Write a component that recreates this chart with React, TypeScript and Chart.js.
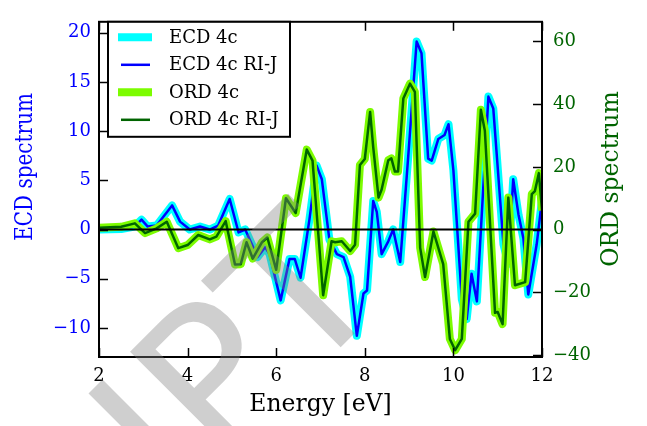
import React, { useEffect, useRef } from 'react';
import { Chart, registerables } from 'chart.js';

Chart.register(...registerables);

// ---- data ----
const ecdEnergy = [2.0, 2.5, 2.8, 2.96, 3.1, 3.3, 3.65, 3.83, 4.05, 4.28, 4.5, 4.69, 4.95, 5.15, 5.3, 5.58, 5.75, 5.85, 6.1, 6.3, 6.42, 6.55, 6.75, 6.91, 7.03, 7.2, 7.37, 7.52, 7.67, 7.82, 7.97, 8.05, 8.19, 8.27, 8.38, 8.53, 8.64, 8.8, 8.98, 9.17, 9.28, 9.43, 9.51, 9.66, 9.8, 9.89, 10.0, 10.19, 10.3, 10.41, 10.53, 10.79, 10.9, 11.13, 11.24, 11.35, 11.47, 11.58, 11.69, 11.88, 12.0];
const ecdValues = [0.0, 0.05, 0.3, 1.0, 0.3, 0.4, 2.45, 0.8, 0.0, 0.3, 0.0, 0.4, 3.1, -0.3, 0.0, -2.8, -1.8, -2.5, -7.2, -3.0, -3.0, -4.9, 1.0, 6.5, 5.1, -1.0, -2.5, -2.8, -4.8, -10.8, -6.5, -6.2, 2.9, 1.8, -2.5, -1.2, 0.0, -3.3, 7.4, 19.1, 17.9, 7.2, 7.0, 9.2, 9.6, 10.7, 6.0, -7.1, -9.1, -4.5, -7.3, 13.5, 12.3, -1.5, -3.5, 5.1, 1.5, -0.9, -6.6, -1.5, 3.0];

const ordEnergy = [2.0, 2.5, 2.81, 3.04, 3.3, 3.53, 3.79, 4.0, 4.24, 4.5, 4.65, 4.86, 5.07, 5.2, 5.33, 5.47, 5.68, 5.8, 6.0, 6.22, 6.44, 6.69, 6.82, 7.06, 7.25, 7.33, 7.48, 7.67, 7.78, 7.89, 8.0, 8.12, 8.19, 8.31, 8.38, 8.53, 8.6, 8.68, 8.75, 8.87, 9.02, 9.13, 9.25, 9.36, 9.55, 9.77, 9.92, 10.04, 10.19, 10.34, 10.49, 10.62, 10.71, 10.94, 11.0, 11.11, 11.24, 11.39, 11.62, 11.77, 11.84, 11.93, 12.0];
const ordValues = [0.6, 0.9, 2.0, -1.1, 0.4, 2.5, -5.9, -4.9, -1.7, -3.1, -2.2, 2.7, -11.1, -11.0, -4.0, -9.2, -4.0, -2.5, -12.8, 10.0, 5.3, 25.5, 22.0, -20.9, -3.7, -4.0, -3.7, -6.8, -4.8, 20.6, 22.5, 37.5, 26.3, 10.2, 12.8, 22.1, 22.7, 18.5, 18.5, 41.8, 46.5, 43.9, -5.8, -15.1, -0.6, -11.0, -34.8, -38.4, -34.8, 2.5, 5.1, 38.2, 31.5, -26.5, -26.2, -30.1, 10.2, -17.7, -16.7, 11.3, 12.3, 18.0, 6.1];

const energyTicks = [2, 4, 6, 8, 10, 12];
const ecdTicks = [-10, -5, 0, 5, 10, 15, 20];
const ordTicks = [-40, -20, 0, 20, 40, 60];
const seriesLabels = ['ECD 4c', 'ECD 4c RI-J', 'ORD 4c', 'ORD 4c RI-J'];
const xTitle = 'Energy [eV]';
const ecdTitle = 'ECD spectrum';
const ordTitle = 'ORD spectrum';
const watermark = 'ACCEPTED MANUSCRIPT';

const SERIF = '"DejaVu Serif", serif';

const toPoints = (xs: number[], ys: number[]) => xs.map((x, i) => ({ x, y: ys[i] }));
const fmt = (v: number) => (v < 0 ? '\u2212' + Math.abs(v) : String(v));

const decorPlugin = {
  id: 'decor',
  afterDraw(chart: any) {
    const { ctx, chartArea: a, scales } = chart;
    ctx.save();
    // frame
    ctx.strokeStyle = '#000';
    ctx.lineWidth = 2;
    ctx.strokeRect(a.left, a.top, a.right - a.left, a.bottom - a.top);
    // inward ticks
    ctx.lineWidth = 1.5;
    const seg = (x1: number, y1: number, x2: number, y2: number) => {
      ctx.beginPath();
      ctx.moveTo(x1, y1);
      ctx.lineTo(x2, y2);
      ctx.stroke();
    };
    const TL = 9;
    scales.x.ticks.forEach((t: any) => {
      const p = Math.round(scales.x.getPixelForValue(t.value)) + 0.5;
      seg(p, a.bottom, p, a.bottom - TL);
      seg(p, a.top, p, a.top + TL);
    });
    scales.y.ticks.forEach((t: any) => {
      const p = Math.round(scales.y.getPixelForValue(t.value)) + 0.5;
      seg(a.left, p, a.left + TL, p);
    });
    scales.y2.ticks.forEach((t: any) => {
      const p = Math.round(scales.y2.getPixelForValue(t.value)) + 0.5;
      seg(a.right, p, a.right - TL, p);
    });

    // axis titles (rotated, reading bottom to top)
    ctx.textAlign = 'center';
    ctx.textBaseline = 'middle';
    ctx.save();
    ctx.translate(26, 167);
    ctx.rotate(-Math.PI / 2);
    ctx.scale(0.85, 1);
    ctx.fillStyle = '#0000ff';
    ctx.font = `23.5px ${SERIF}`;
    ctx.fillText(ecdTitle, 0, 0);
    ctx.restore();
    ctx.save();
    ctx.translate(612, 179);
    ctx.rotate(-Math.PI / 2);
    ctx.fillStyle = '#006400';
    ctx.font = `23.5px ${SERIF}`;
    ctx.fillText(ordTitle, 0, 0);
    ctx.restore();

    // legend
    const lx = a.left + 9;
    const ly = a.top;
    const lw = 182;
    const lh = 115;
    ctx.fillStyle = '#fff';
    ctx.fillRect(lx, ly, lw, lh);
    ctx.strokeStyle = '#000';
    ctx.lineWidth = 2;
    ctx.strokeRect(lx, ly, lw, lh);
    const ds = chart.data.datasets;
    for (let i = 0; i < seriesLabels.length; i++) {
      const cy = ly + 15.5 + i * 27.5;
      const d = ds[i];
      ctx.strokeStyle = d.borderColor;
      ctx.lineWidth = d.borderWidth;
      ctx.lineCap = 'butt';
      const thick = d.borderWidth > 4;
      seg(lx + (thick ? 10 : 13), cy, lx + (thick ? 44 : 42), cy);
      ctx.fillStyle = '#000';
      ctx.font = `18px ${SERIF}`;
      ctx.textAlign = 'left';
      ctx.textBaseline = 'middle';
      ctx.fillText(d.label, lx + 61, cy + 1);
    }

    // watermark
    ctx.save();
    ctx.translate(391, 297);
    ctx.rotate((-45 * Math.PI) / 180);
    ctx.font = '200px "DejaVu Sans", sans-serif';
    ctx.textAlign = 'right';
    ctx.textBaseline = 'alphabetic';
    ctx.fillStyle = 'rgba(130,130,130,0.38)';
    ctx.fillText(watermark, 0, 0);
    ctx.restore();

    ctx.restore();
  },
};

export default function App() {
  const ref = useRef<HTMLCanvasElement | null>(null);

  useEffect(() => {
    if (!ref.current) return;
    const tickFont = { family: SERIF, size: 18 };
    const chart = new Chart(ref.current, {
      type: 'line',
      data: {
        datasets: [
          {
            label: seriesLabels[0],
            data: toPoints(ecdEnergy, ecdValues),
            borderColor: '#00ffff',
            borderWidth: 8,
            yAxisID: 'y',
            order: 5,
          },
          {
            label: seriesLabels[1],
            data: toPoints(ecdEnergy, ecdValues),
            borderColor: '#0000ff',
            borderWidth: 2.5,
            yAxisID: 'y',
            order: 4,
          },
          {
            label: seriesLabels[2],
            data: toPoints(ordEnergy, ordValues),
            borderColor: '#7cfc00',
            borderWidth: 8,
            yAxisID: 'y2',
            order: 3,
          },
          {
            label: seriesLabels[3],
            data: toPoints(ordEnergy, ordValues),
            borderColor: '#006400',
            borderWidth: 2.5,
            yAxisID: 'y2',
            order: 2,
          },
          {
            label: 'zero',
            data: [
              { x: energyTicks[0], y: 0 },
              { x: energyTicks[energyTicks.length - 1], y: 0 },
            ],
            borderColor: '#000',
            borderWidth: 2,
            yAxisID: 'y',
            order: 1,
          },
        ],
      },
      options: {
        responsive: false,
        animation: false,
        devicePixelRatio: 1,
        layout: { padding: { top: 13, left: 0, right: 0, bottom: 0 } },
        plugins: { legend: { display: false }, tooltip: { enabled: false } },
        elements: {
          point: { radius: 0, hoverRadius: 0 },
          line: { tension: 0, borderJoinStyle: 'round', borderCapStyle: 'butt', fill: false },
        },
        datasets: { line: { clip: 0 } as any },
        scales: {
          x: {
            type: 'linear',
            min: 2,
            max: 12,
            afterBuildTicks: (s: any) => {
              s.ticks = energyTicks.map((v) => ({ value: v }));
            },
            afterFit: (s: any) => {
              s.height = 69;
            },
            grid: { display: false, drawTicks: false },
            border: { display: false },
            ticks: { color: '#000', font: tickFont, padding: 9, maxRotation: 0, autoSkip: false, callback: (v: any) => fmt(v) },
            title: {
              display: true,
              text: xTitle,
              color: '#000',
              font: { family: SERIF, size: 23.5 },
              padding: { top: 0, bottom: 7 },
            },
          },
          y: {
            type: 'linear',
            position: 'left',
            min: -12.95,
            max: 21.1,
            afterBuildTicks: (s: any) => {
              s.ticks = ecdTicks.map((v) => ({ value: v }));
            },
            afterFit: (s: any) => {
              s.width = 99;
            },
            grid: { display: false, drawTicks: false },
            border: { display: false },
            ticks: { color: '#0000ff', font: tickFont, padding: 8, autoSkip: false, callback: (v: any) => fmt(v) },
          },
          y2: {
            type: 'linear',
            position: 'right',
            min: -40.56,
            max: 66.2,
            afterBuildTicks: (s: any) => {
              s.ticks = ordTicks.map((v) => ({ value: v }));
            },
            afterFit: (s: any) => {
              s.width = 105;
            },
            grid: { display: false, drawTicks: false },
            border: { display: false },
            ticks: { color: '#006400', font: tickFont, padding: 11, autoSkip: false, callback: (v: any) => fmt(v) },
          },
        },
      },
      plugins: [decorPlugin],
    } as any);
    return () => chart.destroy();
  }, []);

  return (
    <div style={{ position: 'fixed', left: 0, top: 0, width: 647, height: 426, background: '#fff' }}>
      <canvas ref={ref} width={647} height={426} style={{ display: 'block', width: 647, height: 426 }} />
    </div>
  );
}
